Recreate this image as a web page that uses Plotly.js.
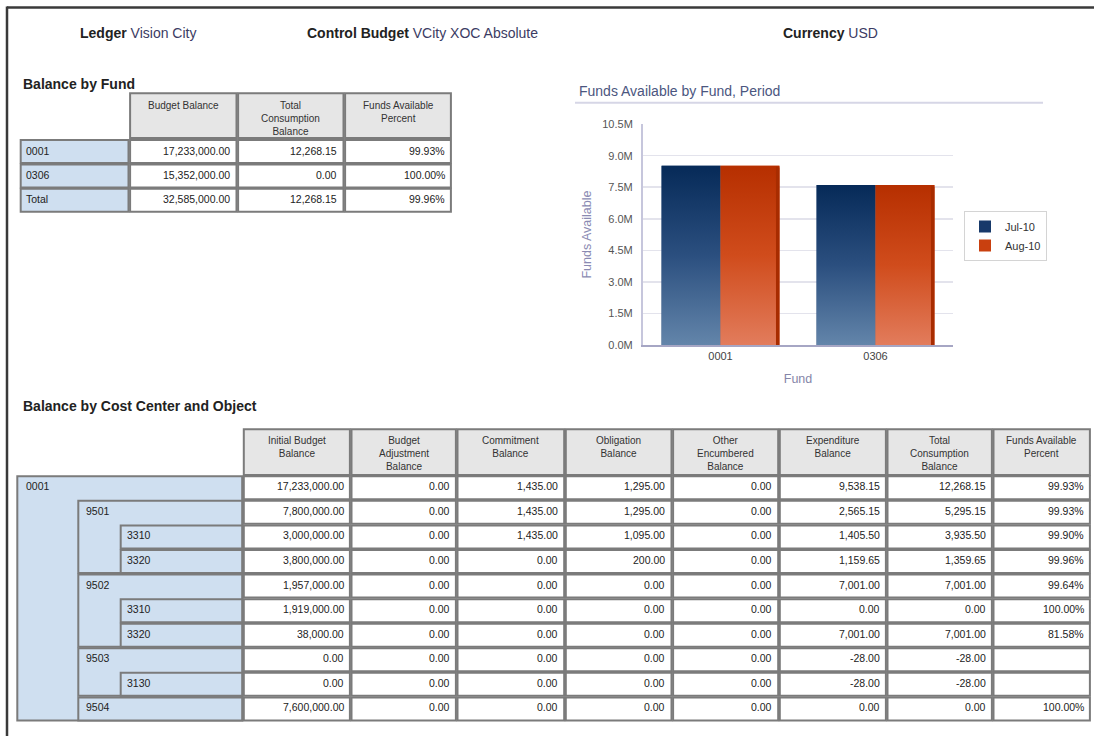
<!DOCTYPE html>
<html><head><meta charset="utf-8">
<script src="https://cdn.plot.ly/plotly-3.0.1.min.js"></script>
<style>html,body{margin:0;padding:0;background:#fff;}#chart{width:1094px;height:736px;}</style>
</head><body><div id="chart"></div>
<script>
// ---------------- data ----------------
const headerLabels = ['Ledger', 'Control Budget', 'Currency'];
const headerValues = ['Vision City', 'VCity XOC Absolute', 'USD'];

const chartTitle = 'Funds Available by Fund, Period';
const chartFunds = ['0001', '0306'];
const periods = ['Jul-10', 'Aug-10'];
const fundsAvailJul = [8520000, 7600000];
const fundsAvailAug = [8520000, 7600000];
const yTickVals = [0, 1500000, 3000000, 4500000, 6000000, 7500000, 9000000, 10500000];
const yTickText = ['0.0M', '1.5M', '3.0M', '4.5M', '6.0M', '7.5M', '9.0M', '10.5M'];

const fundRowLabels = ['0001', '0306', 'Total'];
const fundColHeaders = ['Budget Balance', 'Total<br>Consumption<br>Balance', 'Funds Available<br>Percent'];
const fundBudgetBalance = [17233000, 15352000, 32585000];
const fundConsumption = [12268.15, 0, 12268.15];
const fundAvailPct = [99.93, 100.00, 99.96];

const ccRowLabels = ['0001', '9501', '3310', '3320', '9502', '3310', '3320', '9503', '3130', '9504'];
const ccRowLevels = [0, 1, 2, 2, 1, 2, 2, 1, 2, 1];
const ccColHeaders = ['Initial Budget<br>Balance', 'Budget<br>Adjustment<br>Balance', 'Commitment<br>Balance',
  'Obligation<br>Balance', 'Other<br>Encumbered<br>Balance', 'Expenditure<br>Balance',
  'Total<br>Consumption<br>Balance', 'Funds Available<br>Percent'];
const ccInitialBudget = [17233000, 7800000, 3000000, 3800000, 1957000, 1919000, 38000, 0, 0, 7600000];
const ccBudgetAdjustment = [0, 0, 0, 0, 0, 0, 0, 0, 0, 0];
const ccCommitment = [1435, 1435, 1435, 0, 0, 0, 0, 0, 0, 0];
const ccObligation = [1295, 1295, 1095, 200, 0, 0, 0, 0, 0, 0];
const ccOtherEncumbered = [0, 0, 0, 0, 0, 0, 0, 0, 0, 0];
const ccExpenditure = [9538.15, 2565.15, 1405.50, 1159.65, 7001, 0, 7001, -28, -28, 0];
const ccTotalConsumption = [12268.15, 5295.15, 3935.50, 1359.65, 7001, 0, 7001, -28, -28, 0];
const ccFundsAvailPct = [99.93, 99.93, 99.90, 99.96, 99.64, 100.00, 81.58, null, null, 100.00];

// ---------------- helpers ----------------
const W = 1094, H = 736;
const X = p => p / W;
const Y = p => 1 - p / H;
const FONT = 'Liberation Sans, Arial, Helvetica, sans-serif';
const fmtNum = v => {
  const s = Math.abs(v).toFixed(2);
  const parts = s.split('.');
  return (v < 0 ? '-' : '') + parts[0].replace(/\B(?=(\d{3})+(?!\d))/g, ',') + '.' + parts[1];
};
const fmtPct = v => (v === null || v === undefined) ? '' : v.toFixed(2) + '%';

const shapes = [], annotations = [];
const BORDER = '#7b7b7b', HEADFILL = '#e6e6e6', ROWHEADFILL = '#cfdff0';
function rect(x0, y0, x1, y1, fill, lc, lw) {
  shapes.push({type: 'rect', xref: 'paper', yref: 'paper', x0: X(x0), x1: X(x1), y0: Y(y1), y1: Y(y0),
    fillcolor: fill, line: {color: lc, width: lw}, layer: 'below'});
}
function seg(x0, y0, x1, y1, color, lw) {
  shapes.push({type: 'line', xref: 'paper', yref: 'paper', x0: X(x0), x1: X(x1), y0: Y(y0), y1: Y(y1),
    line: {color: color, width: lw}, layer: 'below'});
}
function text(t, x, y, opts) {
  const o = Object.assign({xanchor: 'left', yanchor: 'middle', size: 11, color: '#222', align: 'left'}, opts || {});
  annotations.push({text: t, x: X(x), y: Y(y), xref: 'paper', yref: 'paper', showarrow: false,
    xanchor: o.xanchor, yanchor: o.yanchor, align: o.align, borderpad: 0,
    font: {family: FONT, size: o.size, color: o.color}});
}

// ---------------- page frame & header ----------------
seg(7, 7.5, 1094, 7.5, '#3a3a3a', 2.5);
seg(7, 6.5, 7, 736, '#3a3a3a', 2.5);
const headerX = [79, 306, 782];
headerLabels.forEach((lbl, i) => {
  text('<b>' + lbl + '</b> <span style="color:#3b3b63">' + headerValues[i] + '</span>', headerX[i], 32.5, {size: 14});
});

// ---------------- Balance by Fund table ----------------
text('<b>Balance by Fund</b>', 22, 84, {size: 14});
const FT_X = [20.7, 129.3, 237.3, 344.3, 451.7];
const FT_HEAD = [93.3, 138], FT_ROW0 = 140, FT_ROWH = 24.4, FT_CELLH = 23;
fundColHeaders.forEach((h, c) => {
  rect(FT_X[c + 1] + 0.8, FT_HEAD[0], FT_X[c + 2] - 0.8, FT_HEAD[1], HEADFILL, BORDER, 2);
  text(h, (FT_X[c + 1] + FT_X[c + 2]) / 2, FT_HEAD[0] + 5.5, {xanchor: 'center', yanchor: 'top', align: 'center', size: 10, color: '#333'});
});
fundRowLabels.forEach((lbl, r) => {
  const top = FT_ROW0 + r * FT_ROWH, bot = top + FT_CELLH;
  rect(FT_X[0], top, FT_X[1] - 0.8, bot, ROWHEADFILL, BORDER, 2);
  text(lbl, FT_X[0] + 4, top + 10.5, {size: 10.5});
  const vals = [fmtNum(fundBudgetBalance[r]), fmtNum(fundConsumption[r]), fmtPct(fundAvailPct[r])];
  vals.forEach((v, c) => {
    rect(FT_X[c + 1] + 0.8, top, FT_X[c + 2] - 0.8, bot, '#ffffff', BORDER, 2);
    text(v, FT_X[c + 2] - 6, top + 10.5, {xanchor: 'right', size: 10.5});
  });
});

// ---------------- Balance by Cost Center and Object table ----------------
text('<b>Balance by Cost Center and Object</b>', 21.7, 406, {size: 14});
const CC_X = [243, 350.7, 456.7, 565, 672.3, 779, 886.7, 992.7, 1090.7];
const CC_HEAD = [429.3, 475], CC_ROW0 = 476.3, CC_ROWH = 24.57, CC_CELLH = 23;
const CC_INDENT = [17.3, 78.3, 120.7], CC_TEXTX = [25, 85, 126];
const ccCols = [ccInitialBudget, ccBudgetAdjustment, ccCommitment, ccObligation, ccOtherEncumbered,
  ccExpenditure, ccTotalConsumption];
ccColHeaders.forEach((h, c) => {
  rect(CC_X[c] + 0.8, CC_HEAD[0], CC_X[c + 1] - 0.8, CC_HEAD[1], HEADFILL, BORDER, 2);
  text(h, (CC_X[c] + CC_X[c + 1]) / 2, CC_HEAD[0] + 5, {xanchor: 'center', yanchor: 'top', align: 'center', size: 10, color: '#333'});
});
// hierarchical row headers (nested boxes)
ccRowLabels.forEach((lbl, r) => {
  const lev = ccRowLevels[r];
  let end = r;
  while (end + 1 < ccRowLabels.length && ccRowLevels[end + 1] > lev) end++;
  const top = CC_ROW0 + r * CC_ROWH, bot = CC_ROW0 + end * CC_ROWH + CC_CELLH;
  rect(CC_INDENT[lev], top, CC_X[0] - 0.8, bot, ROWHEADFILL, BORDER, 2);
});
ccRowLabels.forEach((lbl, r) => {
  const top = CC_ROW0 + r * CC_ROWH, bot = top + CC_CELLH;
  text(lbl, CC_TEXTX[ccRowLevels[r]], top + 10, {size: 10.5});
  const vals = ccCols.map(col => fmtNum(col[r])).concat([fmtPct(ccFundsAvailPct[r])]);
  vals.forEach((v, c) => {
    rect(CC_X[c] + 0.8, top, CC_X[c + 1] - 0.8, bot, '#ffffff', BORDER, 2);
    text(v, CC_X[c + 1] - 6, top + 10, {xanchor: 'right', size: 10.5});
  });
});

// ---------------- chart ----------------
seg(575, 102.7, 1043, 102.7, '#d6d6e6', 2);
const BAR_W = 0.38, EDGE_W = 0.022;
const seriesVals = [fundsAvailJul, fundsAvailAug];
const seriesOffset = [-BAR_W, 0];
const seriesColor = ['#17396a', '#c9400f'];
const seriesScale = [
  [[0, '#6385aa'], [0.5, '#2b4f7f'], [1, '#062a58']],
  [[0, '#e27c5c'], [0.5, '#d04c1c'], [1, '#b62f00']]
];
const xIdx = chartFunds.map((f, i) => i);
const traces = [];
periods.forEach((p, s) => {
  traces.push({type: 'bar', x: xIdx, y: seriesVals[s], name: p, width: BAR_W, offset: seriesOffset[s],
    marker: {color: seriesColor[s], line: {width: 0}}, hoverinfo: 'skip'});
});
// gradient faces over each bar, built from the same values
periods.forEach((p, s) => {
  seriesVals[s].forEach((v, i) => {
    const x0 = xIdx[i] + seriesOffset[s], x1 = x0 + BAR_W;
    traces.push({type: 'scatter', mode: 'lines', x: [x0, x0, x1, x1, x0], y: [0, v, v, 0, 0],
      fill: 'toself', line: {width: 0, color: 'rgba(0,0,0,0)'},
      fillgradient: {type: 'vertical', colorscale: seriesScale[s]},
      showlegend: false, hoverinfo: 'skip'});
  });
});
// darker side edge on the right of each group (last series)
fundsAvailAug.forEach((v, i) => {
  const x1 = xIdx[i] + BAR_W, x0 = x1 - EDGE_W;
  traces.push({type: 'scatter', mode: 'lines', x: [x0, x0, x1, x1, x0], y: [0, v * 0.995, v * 0.99, 0, 0],
    fill: 'toself', fillcolor: '#a82c00', line: {width: 0, color: 'rgba(0,0,0,0)'},
    showlegend: false, hoverinfo: 'skip'});
});

const layout = {
  width: W, height: H,
  margin: {l: 0, r: 0, t: 0, b: 0},
  paper_bgcolor: '#ffffff', plot_bgcolor: '#ffffff',
  font: {family: FONT, color: '#333'},
  barmode: 'overlay',
  title: {text: chartTitle, x: X(579), xanchor: 'left', xref: 'paper', y: Y(90.7), yanchor: 'middle', yref: 'paper',
    font: {family: FONT, size: 14, color: '#4b5680'}},
  xaxis: {domain: [X(643), X(953)], range: [-0.5, 1.5], tickvals: xIdx, ticktext: chartFunds,
    showgrid: false, zeroline: false, showline: true, linecolor: '#a6a6c4', linewidth: 2, ticks: '',
    tickfont: {size: 11, color: '#444'}, fixedrange: true,
    title: {text: 'Fund', font: {size: 12.5, color: '#8585a8'}, standoff: 13}},
  yaxis: {domain: [Y(345), Y(124.1)], range: [0, 10500000], tickvals: yTickVals, ticktext: yTickText,
    showgrid: true, gridcolor: '#e3e3ec', gridwidth: 1.5, zeroline: false, showline: true,
    linecolor: '#c6c6dc', linewidth: 2, ticks: '', ticklabelstandoff: 6,
    tickfont: {size: 11, color: '#555'}, fixedrange: true,
    title: {text: 'Funds Available', font: {size: 12.5, color: '#8a8ab2'}, standoff: 8}},
  showlegend: true,
  legend: {x: X(964), y: Y(211), xanchor: 'left', yanchor: 'top', bgcolor: '#ffffff',
    bordercolor: '#d4d4d4', borderwidth: 1, font: {size: 11, color: '#333'}, tracegroupgap: 0},
  shapes: shapes,
  annotations: annotations
};
Plotly.newPlot('chart', traces, layout, {displayModeBar: false, staticPlot: true});
</script>
</body></html>
